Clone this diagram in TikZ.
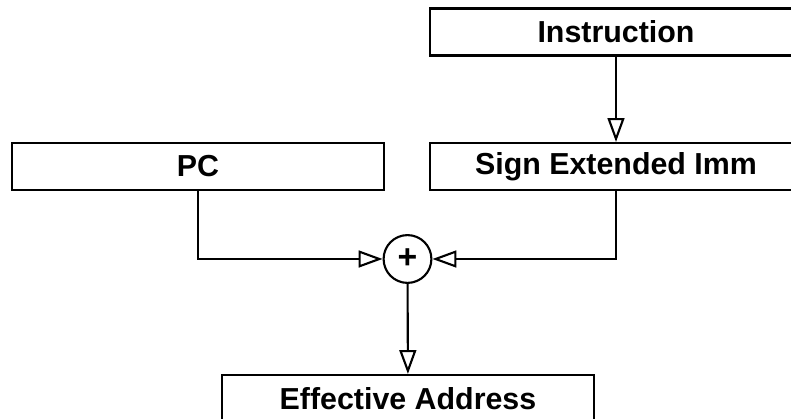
\documentclass[tikz,border=0pt]{standalone}
\usepackage{fontspec}
\setmainfont{Liberation Sans}
\usetikzlibrary{arrows.meta}

\begin{document}
\begin{tikzpicture}[x=0.025cm,y=-0.025cm,
    line width=1.5pt,
    regbox/.style={draw, rectangle, minimum width=264.6pt, minimum height=33.4pt,
        inner sep=0pt, font=\fontsize{21.6}{24}\selectfont\bfseries},
    adder/.style={draw, circle, minimum size=34pt, inner sep=0pt,
        font=\fontsize{24}{24}\selectfont\bfseries},
    flow/.style={-{Triangle[open, length=17pt, width=12pt]}}]
    \useasboundingbox (0,0) rectangle (791,419);

    \node[regbox] (instr) at (616, 32) {Instruction};
    \node[regbox] (imm) at (616, 166.5) {Sign Extended Imm};
    \node[regbox] (pc) at (198, 166.5) {PC};
    \node[adder] (sum) at (407.5, 259) {+};
    \node[regbox] (addr) at (408, 398.5) {Effective Address};

    \draw[flow] (instr) -- (imm);
    \draw[flow] (pc.south) |- (sum.west);
    \draw[flow] (imm.south) |- (sum.east);
    \draw[flow] (sum) -- (addr);
\end{tikzpicture}
\end{document}
